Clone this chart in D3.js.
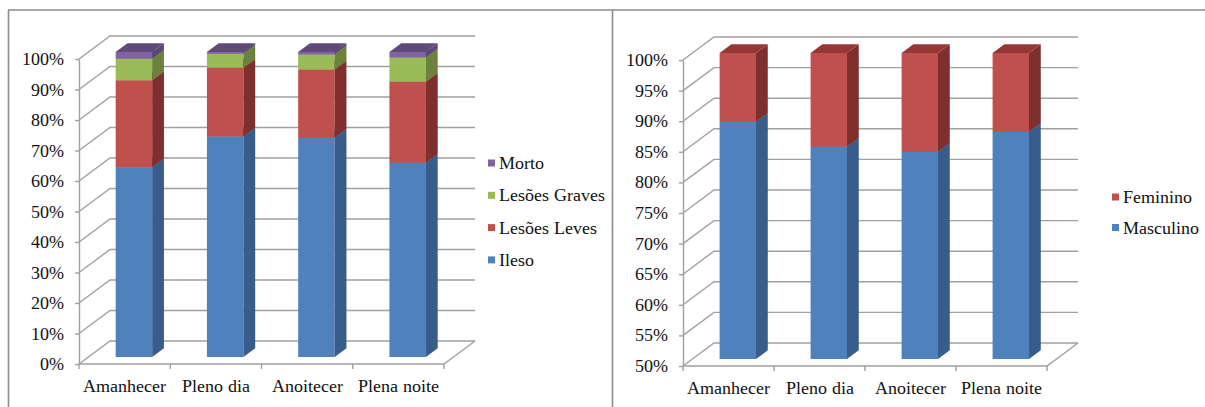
<!DOCTYPE html>
<html>
<head>
<meta charset="utf-8">
<script src="https://cdn.jsdelivr.net/npm/d3@7"></script>
<style>
  @font-face {
    font-family: "LabelSerif";
    src: local("Liberation Serif"), local("LiberationSerif"), local("LiberationSerif-Regular"), local("Times New Roman");
  }
  html, body { margin: 0; padding: 0; background: #fff; }
  #wrap { position: relative; width: 1205px; height: 407px; overflow: hidden; }
  svg { display: block; position: absolute; left: 0; top: 0; }
  .lbl {
    position: absolute; white-space: nowrap;
    font-family: "LabelSerif", "Liberation Serif", "Times New Roman", serif;
    font-size: 17.5px; line-height: 20px; color: #111;
  }
</style>
</head>
<body>
<div id="wrap"><svg id="chart" width="1205" height="407"></svg></div>
<script>
// Periods of the day (shared by both charts)
const categories = ["Amanhecer", "Pleno dia", "Anoitecer", "Plena noite"];

// Chart 1: severity of outcome (% of victims)
const severityKeys = ["Ileso", "Lesões Leves", "Lesões Graves", "Morto"];
const ileso        = [62.2, 72.3, 71.9, 63.7];
const lesoesLeves  = [28.6, 22.6, 22.4, 26.6];
const lesoesGraves = [7.0, 4.6, 4.9, 7.9];
const morto        = [2.2, 0.5, 0.8, 1.8];
const severityTicks = [0, 10, 20, 30, 40, 50, 60, 70, 80, 90, 100];

// Chart 2: sex of victims (%)
const sexKeys = ["Masculino", "Feminino"];
const masculino = [88.8, 84.7, 83.9, 87.1];
const feminino  = [11.2, 15.3, 16.1, 12.9];
const sexTicks = [50, 55, 60, 65, 70, 75, 80, 85, 90, 95, 100];

// Office-style palette: front, side and top shades per series
const palette = {
  "Ileso":         ["#4f81bd", "#385d8a", "#3d6496"],
  "Masculino":     ["#4f81bd", "#385d8a", "#3d6496"],
  "Lesões Leves":  ["#c0504d", "#7f302e", "#953735"],
  "Feminino":      ["#c0504d", "#7f302e", "#953735"],
  "Lesões Graves": ["#9bbb59", "#6b813c", "#77933c"],
  "Morto":         ["#8064a2", "#5c4777", "#604a7b"]
};

const LABEL_FONT = '"LabelSerif", "Liberation Serif", "Times New Roman", serif';
const wrap = d3.select("#wrap");
const svg = d3.select("#chart");
const GRID = "#a0a0a0";

// Places an HTML text label; (ax, ay) are the anchor fractions of its box
function label(text, x, y, ax, ay) {
  wrap.append("div").attr("class", "lbl")
    .style("font-family", LABEL_FONT)
    .style("left", x + "px").style("top", y + "px")
    .style("transform", `translate(${-ax * 100}%, ${-ay * 100}%)`)
    .text(text);
}

// Panel frames
svg.append("rect").attr("width", 1205).attr("height", 407).attr("fill", "#fff");
const frame = svg.append("g").attr("stroke", "#8c8c8c").attr("stroke-width", 1.6).attr("fill", "none");
frame.append("line").attr("x1", 8.5).attr("y1", 10).attr("x2", 8.5).attr("y2", 407);
frame.append("line").attr("x1", 8).attr("y1", 10).attr("x2", 1205).attr("y2", 10);
frame.append("line").attr("x1", 612.5).attr("y1", 10).attr("x2", 612.5).attr("y2", 407);

function drawChart(opt) {
  const g = svg.append("g");
  const DX = 31, DY = 23;         // oblique depth of the plot box
  const zF = 0.3, zB = 0.68;      // depth span occupied by the bars

  const x = d3.scaleBand().domain(categories)
    .range([opt.left, opt.right]).paddingInner(0.6).paddingOuter(0.3);
  const y = d3.scaleLinear().domain(opt.domain).range([opt.bottom, opt.top]).clamp(true);
  const P = (px, v, z) => [px + z * DX, y(v) - z * DY];
  const poly = pts => "M" + pts.map(p => p.join(",")).join("L") + "Z";

  // Side wall and back wall gridlines
  const grid = g.append("g").attr("stroke", GRID).attr("stroke-width", 1.4).attr("fill", "none");
  opt.ticks.forEach(t => {
    const a = P(opt.left, t, 0), b = P(opt.left, t, 1), c = P(opt.right, t, 1);
    grid.append("path").attr("d", `M${a}L${b}L${c}`);
  });
  // Floor
  const f0 = P(opt.left, opt.domain[0], 0), f1 = P(opt.right, opt.domain[0], 0),
        f2 = P(opt.right, opt.domain[0], 1);
  grid.append("path").attr("d", `M${f0}L${f1}L${f2}`);

  // Category boundary ticks on the floor edge
  d3.range(categories.length + 1).forEach(i => {
    const bx = opt.left + i * x.step();
    grid.append("line").attr("x1", bx).attr("x2", bx)
      .attr("y1", y(opt.domain[0])).attr("y2", y(opt.domain[0]) + 5);
  });

  // Value axis line and ticks; labels set as HTML text
  const yAxis = g.append("g").attr("transform", `translate(${opt.left},0)`)
    .call(d3.axisLeft(y).tickValues(opt.ticks).tickSize(4).tickSizeOuter(0).tickFormat(""));
  yAxis.selectAll("path, line").attr("stroke", GRID).attr("stroke-width", 1.4);
  yAxis.selectAll("text").remove();
  opt.ticks.forEach(t => label(t + "%", opt.left - 15, y(t), 1, 0.5));

  // Category labels
  categories.forEach(c => label(c, x(c) + x.bandwidth() / 2, y(opt.domain[0]) + 12, 0.5, 0));

  // Stacked 3D bars
  const rows = categories.map((c, i) => {
    const r = { cat: c };
    opt.keys.forEach((k, j) => r[k] = opt.values[j][i]);
    return r;
  });
  const series = d3.stack().keys(opt.keys)(rows);
  const bars = g.append("g");
  categories.forEach((c, i) => {
    const xl = x(c), xr = xl + x.bandwidth();
    series.forEach(s => {
      const v0 = s[i][0], v1 = s[i][1];
      const col = palette[s.key];
      bars.append("path").attr("fill", col[0])
        .attr("d", poly([P(xl, v0, zF), P(xr, v0, zF), P(xr, v1, zF), P(xl, v1, zF)]));
      bars.append("path").attr("fill", col[1])
        .attr("d", poly([P(xr, v0, zF), P(xr, v0, zB), P(xr, v1, zB), P(xr, v1, zF)]));
      bars.append("path").attr("fill", col[2])
        .attr("d", poly([P(xl, v1, zF), P(xr, v1, zF), P(xr, v1, zB), P(xl, v1, zB)]));
    });
  });

  // Legend (top series first)
  const lg = g.append("g");
  opt.keys.slice().reverse().forEach((k, i) => {
    const ly = opt.legendY + i * opt.legendStep;
    lg.append("rect").attr("x", opt.legendX).attr("y", ly - 3.5)
      .attr("width", 7).attr("height", 7).attr("fill", palette[k][0]);
    label(k, opt.legendX + 11, ly, 0, 0.5);
  });
}

drawChart({
  left: 79, right: 444, top: 59, bottom: 364,
  domain: [0, 100], ticks: severityTicks,
  keys: severityKeys, values: [ileso, lesoesLeves, lesoesGraves, morto],
  legendX: 488, legendY: 163, legendStep: 32.3
});

drawChart({
  left: 683, right: 1047, top: 60, bottom: 366,
  domain: [50, 100], ticks: sexTicks,
  keys: sexKeys, values: [masculino, feminino],
  legendX: 1112, legendY: 197, legendStep: 30.5
});
</script>
</body>
</html>
